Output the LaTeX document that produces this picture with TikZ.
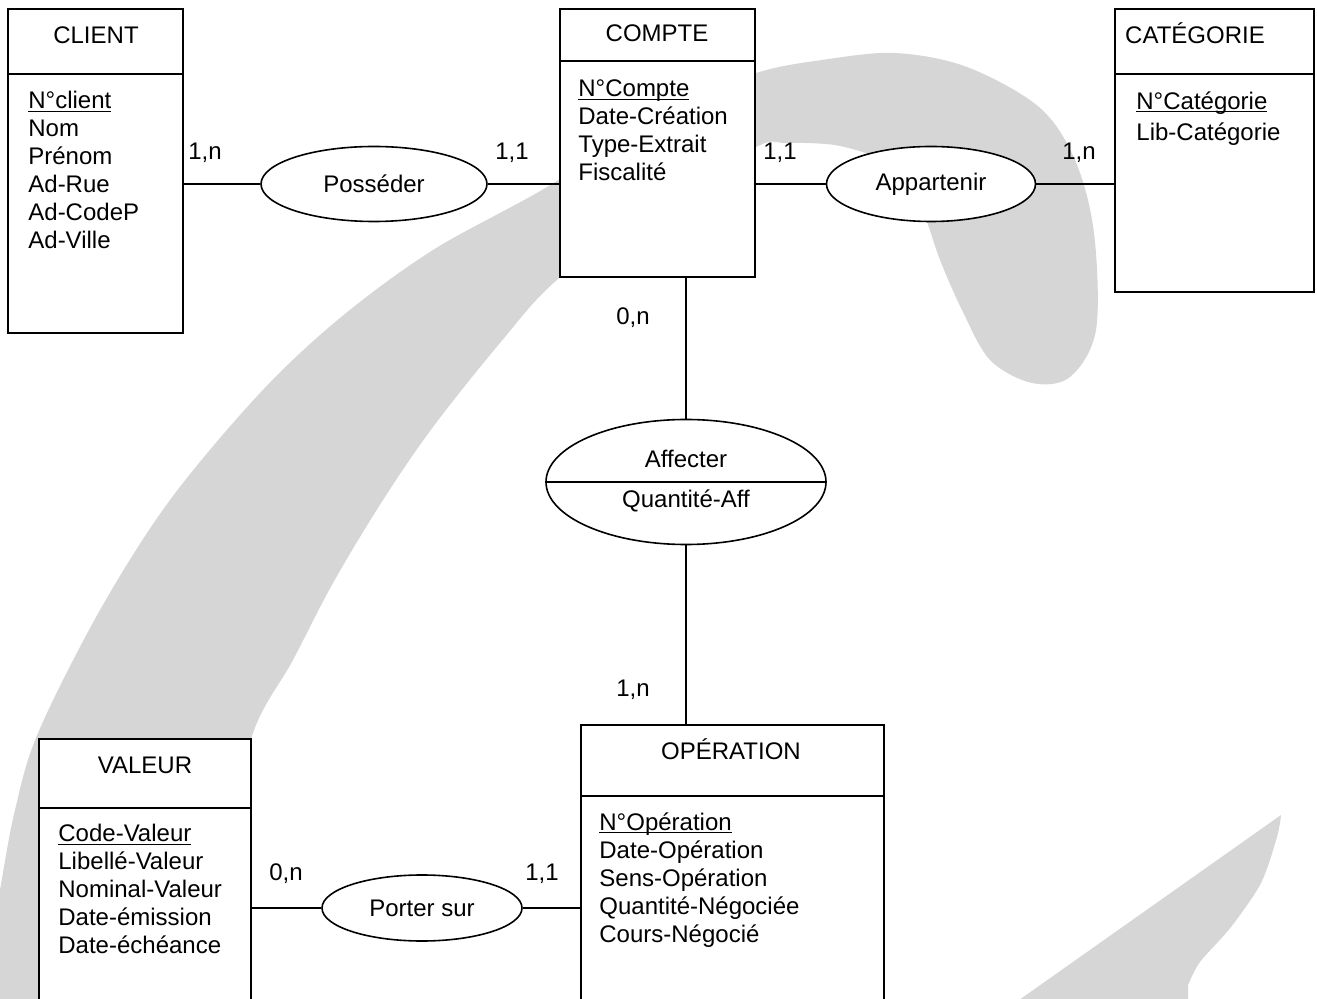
\documentclass[tikz,border=0pt]{standalone}
\usepackage{fontspec}
\setmainfont{Liberation Sans}
\usetikzlibrary{shapes,positioning}
\newcommand{\identifiant}[1]{\underline{\smash{#1}}\vphantom{#1}}
\tikzset{
    entite/.style={
    rectangle,draw=black,fill=white,line width=0.9pt,inner sep=0pt
    },
    titre/.style={
    anchor=base,font=\fontsize{12}{14}\selectfont
    },
    attributs/.style={
    anchor=north west,align=left,inner sep=0pt,font=\fontsize{12}{14}\selectfont
    },
    assoc/.style={
    ellipse,draw=black,fill=white,line width=0.8pt,inner sep=0pt,font=\fontsize{12}{14}\selectfont
    },
    card/.style={
    anchor=base,font=\fontsize{12}{14}\selectfont
    },
    lien/.style={
    line width=0.75pt
    },
    filigrane/.style={
    fill=black!16,draw=none
    },
}

\begin{document}
\begin{tikzpicture}[x=0.5pt, y=-0.5pt]
   \useasboundingbox (0,0) rectangle (1317,999);
   \clip (0,0) rectangle (1317,999);

   % filigrane
   \fill[filigrane] plot[smooth cycle, tension=0.55] coordinates {
     (-20,1010) (0,890) (15,810) (38,733) (100,610) (170,500)
     (260,393) (340,318) (433,250) (552,184) (660,110) (756,73)
     (822,60) (895,53) (967,67) (1039,107) (1075,160) (1094,233) (1096,330)
     (1070,377) (1032,383) (990,360) (962,310) (940,260) (920,205) (890,165)
     (840,146) (786,143) (756,147) (660,205) (557,280) (500,343) (433,427)
     (383,500) (333,583) (293,660) (253,733) (228,850) (215,1010)};
   \fill[filigrane] (1281,815) -- (1012,1005) -- (1188,1005) -- (1188,985)
     -- plot[smooth] coordinates {(1188,985) (1200,962) (1231,927) (1261,883) (1277,837) (1281,815)} -- cycle;

   % entites
   \node[entite, minimum width=87.5pt, minimum height=162pt] (client) at (95.5,171) {};
   \node[entite, minimum width=97.5pt, minimum height=134pt] (compte) at (657.5,143) {};
   \node[entite, minimum width=99.5pt, minimum height=141.5pt] (categorie) at (1214.5,150.5) {};
   \node[entite, minimum width=106pt, minimum height=135.5pt] (valeur) at (145,874.5) {};
   \node[entite, minimum width=151.5pt, minimum height=142.5pt] (operation) at (732.5,867.5) {};

   \draw[line width=0.9pt] ([yshift=-33pt]client.north west) -- ([yshift=-33pt]client.north east);
   \draw[line width=0.9pt] ([yshift=-26.5pt]compte.north west) -- ([yshift=-26.5pt]compte.north east);
   \draw[line width=0.9pt] ([yshift=-33pt]categorie.north west) -- ([yshift=-33pt]categorie.north east);
   \draw[line width=0.9pt] ([yshift=-35pt]valeur.north west) -- ([yshift=-35pt]valeur.north east);
   \draw[line width=0.9pt] ([yshift=-36pt]operation.north west) -- ([yshift=-36pt]operation.north east);

   \node[titre] (t-client) at (96,44) {CLIENT};
   \node[titre] (t-compte) at (657,42) {COMPTE};
   \node[titre] (t-categorie) at (1195,44) {CATÉGORIE};
   \node[titre] (t-valeur) at (145,773) {VALEUR};
   \node[titre] (t-operation) at (731,759) {OPÉRATION};

   \node[attributs] (a-client) at (28,91) {\identifiant{N°client}\\Nom\\Prénom\\Ad-Rue\\Ad-CodeP\\Ad-Ville};
   \node[attributs] (a-compte) at (578,79) {\identifiant{N°Compte}\\Date-Création\\Type-Extrait\\Fiscalité};
   \node[attributs] (a-categorie) at (1136,91) {\identifiant{N°Catégorie}\\[1.5pt]Lib-Catégorie};
   \node[attributs] (a-valeur) at (58,824) {\identifiant{Code-Valeur}\\Libellé-Valeur\\Nominal-Valeur\\Date-émission\\Date-échéance};
   \node[attributs] (a-operation) at (599,812) {\identifiant{N°Opération}\\Date-Opération\\Sens-Opération\\Quantité-Négociée\\Cours-Négocié};

   % associations
   \node[assoc, minimum width=113pt, minimum height=37.5pt] (posseder) at (374,184) {Posséder};
   \node[assoc, minimum width=104.5pt, minimum height=37.5pt] (appartenir) at (931,184) {Appartenir};
   \node[assoc, minimum width=100pt, minimum height=33pt] (porter) at (422,908) {Porter sur};
   \node[assoc, minimum width=140pt, minimum height=62.5pt] (affecter) at (686,482) {};
   \draw[line width=0.8pt] (affecter.west) -- (affecter.east);
   \node[titre] (t-affecter) at (686,468) {Affecter};
   \node[titre] (t-qte) at (686,508) {Quantité-Aff};

   \path[lien]
     (posseder.west) edge (posseder.west -| client.east)
     (posseder.east) edge (posseder.east -| compte.west)
     (appartenir.west) edge (appartenir.west -| compte.east)
     (appartenir.east) edge (appartenir.east -| categorie.west)
     (affecter.north) edge (affecter.north |- compte.south)
     (affecter.south) edge (affecter.south |- operation.north)
     (porter.west) edge (porter.west -| valeur.east)
     (porter.east) edge (porter.east -| operation.west);

   % cardinalites
   \node[card] (c1) at (205,160) {1,n};
   \node[card] (c2) at (512,160) {1,1};
   \node[card] (c3) at (780,160) {1,1};
   \node[card] (c4) at (1079,160) {1,n};
   \node[card] (c5) at (633,325) {0,n};
   \node[card] (c6) at (633,696) {1,n};
   \node[card] (c7) at (286,880) {0,n};
   \node[card] (c8) at (542,880) {1,1};
\end{tikzpicture}
\end{document}
